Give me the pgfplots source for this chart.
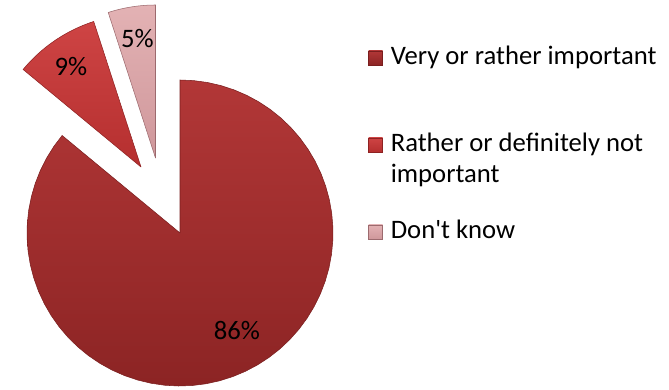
\documentclass[border=0pt]{standalone}
\usepackage{pgfplots}
\pgfplotsset{compat=1.18}
\usepackage{fontspec}
\setmainfont{Carlito}[Ligatures=TeXOff]
\definecolor{bigTop}{HTML}{B23737}
\definecolor{bigBot}{HTML}{8C2424}
\definecolor{bigEdge}{HTML}{7A1E1E}
\definecolor{midTop}{HTML}{CE4444}
\definecolor{midBot}{HTML}{B52F2F}
\definecolor{midEdge}{HTML}{8E2222}
\definecolor{dkTop}{HTML}{E3B2B4}
\definecolor{dkBot}{HTML}{CF979B}
\definecolor{dkEdge}{HTML}{9C6A6E}
% #1 cumulative share before the slice, #2 share, #3,#4 offset of the slice tip (px), #5 style
\newcommand\pieslice[5]{%
\addplot[#5, samples at={-1,0,...,61}, variable=\t]
 ({180 + #3 + (((\t<0) || (\t>60)) ? 0 : 153*cos(90-3.6*(#1+#2*\t/60)))},
  {156 + #4 + (((\t<0) || (\t>60)) ? 0 : 153*sin(90-3.6*(#1+#2*\t/60)))});
}
\begin{document}
\begin{tikzpicture}
\begin{axis}[
  scale only axis, width=501.75pt, height=291.75pt,
  xmin=0, xmax=669, ymin=0, ymax=389,
  hide axis, clip=false,
  legend style={at={(axis cs:368,343)}, anchor=north west, draw=none, fill=none,
     inner sep=0pt, row sep=0pt, column sep=6pt,
     font=\fontsize{20}{23.25}\selectfont,
     nodes={inner sep=0pt, text height=14pt, text depth=51.25pt, anchor=base west},
     cells={anchor=base west}},
  legend image code/.code={\draw[#1, line width=0.4pt] (0pt,0pt) rectangle (10.5pt,10.5pt);},
]
\path (axis cs:0,0) rectangle (axis cs:669,389);
\pieslice{0}{86}{0}{0}{draw=bigEdge, line width=0.4pt, top color=bigTop, bottom color=bigBot}
\addlegendentry{Very or rather important}
\pieslice{86}{9}{-39}{66}{draw=midEdge, line width=0.4pt, top color=midTop, bottom color=midBot}
\addlegendentry{\begin{tabular}[t]{@{}l@{}}Rather or definitely not\\important\end{tabular}}
\pieslice{95}{5}{-24.5}{75}{draw=dkEdge, line width=0.4pt, top color=dkTop, bottom color=dkBot}
\addlegendentry{Don't know}
\node[font=\fontsize{20}{23}\selectfont] at (axis cs:237,59) {86\%};
\node[font=\fontsize{20}{23}\selectfont] at (axis cs:71,322) {9\%};
\node[font=\fontsize{20}{23}\selectfont] at (axis cs:137.5,350) {5\%};
\end{axis}
\end{tikzpicture}
\end{document}
